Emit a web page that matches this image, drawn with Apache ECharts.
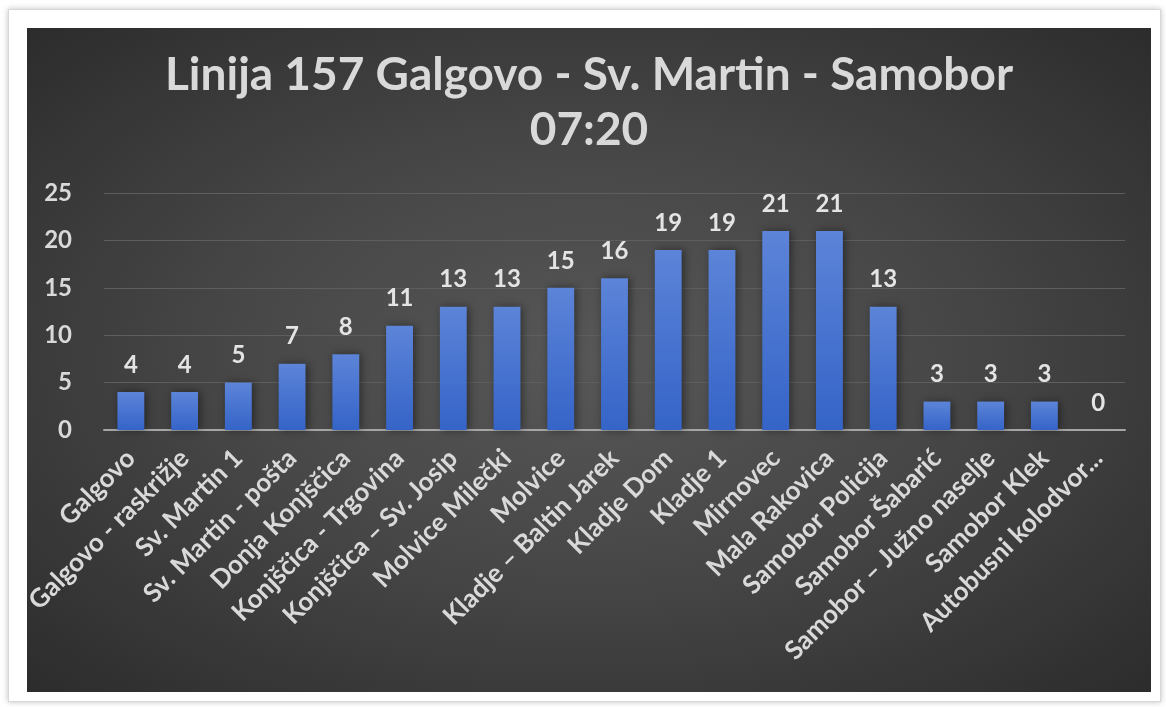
<!DOCTYPE html>
<html>
<head>
<meta charset="utf-8">
<script src="https://cdn.jsdelivr.net/npm/echarts@6/dist/echarts.min.js"></script>
<style>
  html, body { margin: 0; padding: 0; background: #ffffff; }
  #frame {
    position: absolute; left: 8px; top: 9px; width: 1151px; height: 691px;
    background: #ffffff; border: 1px solid #d8d8d8;
    box-shadow: 0 0 6px rgba(0,0,0,0.25);
  }
  #chart {
    position: absolute; left: 27px; top: 28px; width: 1124px; height: 664px;
    background: radial-gradient(ellipse at 50% 50%, #575757 0%, #474747 45%, #2c2c2c 100%);
  }
</style>
</head>
<body>
<div id="frame"></div>
<div id="chart"></div>
<script>
// stops on the line, in order
const stops = [
  'Galgovo', 'Galgovo - raskrižje', 'Sv. Martin 1', 'Sv. Martin - pošta',
  'Donja Konjščica', 'Konjščica - Trgovina', 'Konjščica – Sv. Josip',
  'Molvice Milečki', 'Molvice', 'Kladje – Baltin Jarek', 'Kladje Dom',
  'Kladje 1', 'Mirnovec', 'Mala Rakovica', 'Samobor Policija',
  'Samobor Šabarić', 'Samobor – Južno naselje', 'Samobor Klek',
  'Autobusni kolodvor...'
];
// passengers on board
const passengers = [4, 4, 5, 7, 8, 11, 13, 13, 15, 16, 19, 19, 21, 21, 13, 3, 3, 3, 0];

const titleText = 'Linija 157 Galgovo - Sv. Martin - Samobor\n07:20';
const textColor = '#d9d9d9';
const fontFamily = 'Lato, "Open Sans", sans-serif';

const chart = echarts.init(document.getElementById('chart'));

const option = {
  backgroundColor: 'transparent',
  animation: false,
  title: {
    text: titleText,
    left: 'center',
    top: 15,
    textStyle: {
      color: textColor,
      fontFamily: fontFamily,
      fontSize: 46,
      fontWeight: 'bold',
      lineHeight: 55
    }
  },
  grid: {
    left: 77,
    right: 26,
    top: 165,
    bottom: 262,
    containLabel: false,
    outerBoundsMode: 'none'
  },
  xAxis: {
    type: 'category',
    data: stops,
    axisLine: { lineStyle: { color: '#a6a6a6', width: 2 } },
    axisTick: { show: false },
    axisLabel: {
      rotate: 45,
      interval: 0,
      margin: 24,
      color: textColor,
      fontFamily: fontFamily,
      fontSize: 26,
      fontWeight: 'bold'
    }
  },
  yAxis: {
    type: 'value',
    min: 0,
    max: 25,
    interval: 5,
    axisLine: { show: false },
    axisTick: { show: false },
    splitLine: { lineStyle: { color: '#5e5e5e', width: 1 } },
    axisLabel: {
      margin: 32,
      color: textColor,
      fontFamily: fontFamily,
      fontSize: 24,
      fontWeight: 'bold'
    }
  },
  series: [{
    type: 'bar',
    data: passengers,
    barWidth: '50%',
    itemStyle: {
      color: new echarts.graphic.LinearGradient(0, 0, 0, 1, [
        { offset: 0, color: '#5c84d8' },
        { offset: 1, color: '#3564c8' }
      ]),
      shadowColor: 'rgba(0,0,0,0.45)',
      shadowBlur: 8,
      shadowOffsetX: 2,
      shadowOffsetY: 0
    },
    label: {
      show: true,
      position: 'top',
      distance: 15,
      color: '#e4e4e4',
      fontFamily: fontFamily,
      fontSize: 24,
      fontWeight: 'bold'
    }
  }]
};

chart.setOption(option);
</script>
</body>
</html>
